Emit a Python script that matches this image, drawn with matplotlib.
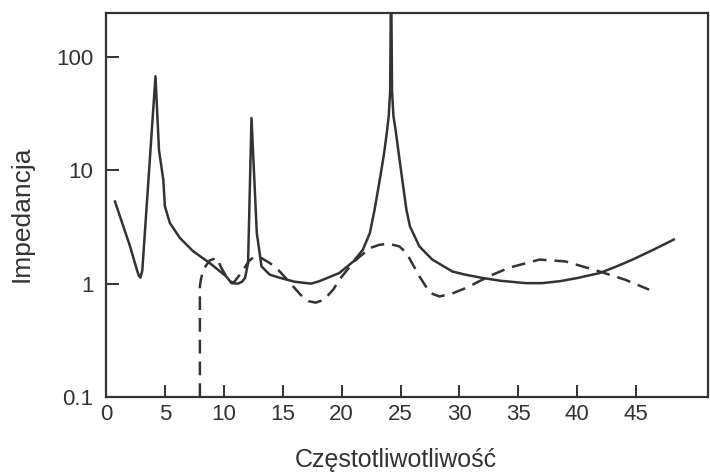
import numpy as np
import matplotlib
matplotlib.use("Agg")
import matplotlib.pyplot as plt

# solid curve (impedance, resonances)
solid_x = [0.76, 2.0, 2.6, 2.78, 2.92, 3.08, 4.2, 4.5, 4.86, 5.0, 5.42, 6.27, 7.4, 8.8,
           10.2, 10.65, 11.2, 11.55, 11.8, 12.06, 12.35, 12.8, 13.2, 13.9, 14.7, 16.0,
           17.4, 18.1, 19.8, 21.0, 21.8, 22.4, 22.8, 23.3, 23.6, 23.85, 24.0, 24.12,
           24.2, 24.28, 24.4, 24.6, 24.85, 25.1, 25.5, 25.8, 26.6, 27.7, 29.4, 30.5,
           32.0, 33.5, 35.65, 37.0, 38.5, 40.0, 41.9, 43.2, 44.7, 46.5, 48.2]
solid_y = [5.3, 2.2, 1.35, 1.18, 1.13, 1.3, 67.5, 15.0, 8.3, 4.8, 3.43, 2.53, 1.93, 1.52,
           1.16, 1.01, 1.0, 1.04, 1.12, 1.52, 28.9, 2.8, 1.42, 1.2, 1.13, 1.04,
           1.0, 1.05, 1.24, 1.57, 1.99, 2.8, 4.5, 9.0, 14.0, 22.0, 30.0, 50.0,
           600.0, 50.0, 30.0, 22.0, 14.0, 9.0, 4.5, 3.2, 2.13, 1.63, 1.28, 1.2,
           1.12, 1.06, 1.01, 1.01, 1.05, 1.12, 1.24, 1.4, 1.63, 2.0, 2.45]

# dashed curve
dash_x = [7.97, 7.97, 8.05, 8.25, 8.8, 9.4, 9.8, 10.3, 10.8, 11.5, 12.1, 12.6, 13.2,
          13.9, 14.6, 15.5, 16.5, 17.2, 17.8, 18.5, 19.3, 19.8, 21.0, 22.4, 23.2, 24.0,
          24.9, 25.5, 26.6, 27.5, 28.3, 29.4, 30.6, 32.5, 34.2, 36.8, 39.0, 41.9,
          44.1, 46.1]
dash_y = [0.1, 0.95, 1.08, 1.33, 1.6, 1.69, 1.37, 1.12, 1.01, 1.25, 1.57, 1.74, 1.68,
          1.52, 1.33, 1.05, 0.8, 0.7, 0.68, 0.72, 0.89, 1.08, 1.55, 2.06, 2.2, 2.25,
          2.13, 1.87, 1.16, 0.83, 0.77, 0.82, 0.92, 1.16, 1.38, 1.63, 1.57, 1.28,
          1.08, 0.885]

x_ticks = [0, 5, 10, 15, 20, 25, 30, 35, 40, 45]
y_ticks = [0.1, 1, 10, 100]
y_tick_labels = ["0.1", "1", "10", "100"]

ink = "#333333"
plt.rcParams["font.family"] = ["Liberation Sans", "DejaVu Sans"]

fig = plt.figure(figsize=(7.1, 4.73), dpi=100)
ax = fig.add_axes([106 / 710, 1 - 397 / 473, 602 / 710, 384 / 473])

ax.plot(solid_x, solid_y, color=ink, linewidth=1.8, solid_joinstyle="round")
ax.plot(dash_x, dash_y, color=ink, linewidth=1.8, linestyle=(0, (5.5, 3.2)))

ax.set_yscale("log")
ax.set_xlim(0, 51.1)
ax.set_ylim(0.1, 244)

ax.set_xticks(x_ticks)
ax.set_yticks(y_ticks)
ax.set_yticklabels(y_tick_labels)
ax.minorticks_off()

ax.tick_params(axis="both", direction="in", length=9, width=1.4, color=ink,
               labelsize=16, labelcolor=ink)
ax.tick_params(axis="x", pad=5)
ax.tick_params(axis="y", pad=9)

for sp in ax.spines.values():
    sp.set_color(ink)
    sp.set_linewidth(1.6)

fig.text(22 / 710, 1 - 214 / 473, "Impedancja", rotation=90, ha="center",
         va="center", fontsize=19, color=ink)
fig.text(396 / 710, 1 - 467 / 473, "Częstotliwotliwość", ha="center",
         va="baseline", fontsize=18, color=ink)

fig.savefig("out.png", dpi=100)
